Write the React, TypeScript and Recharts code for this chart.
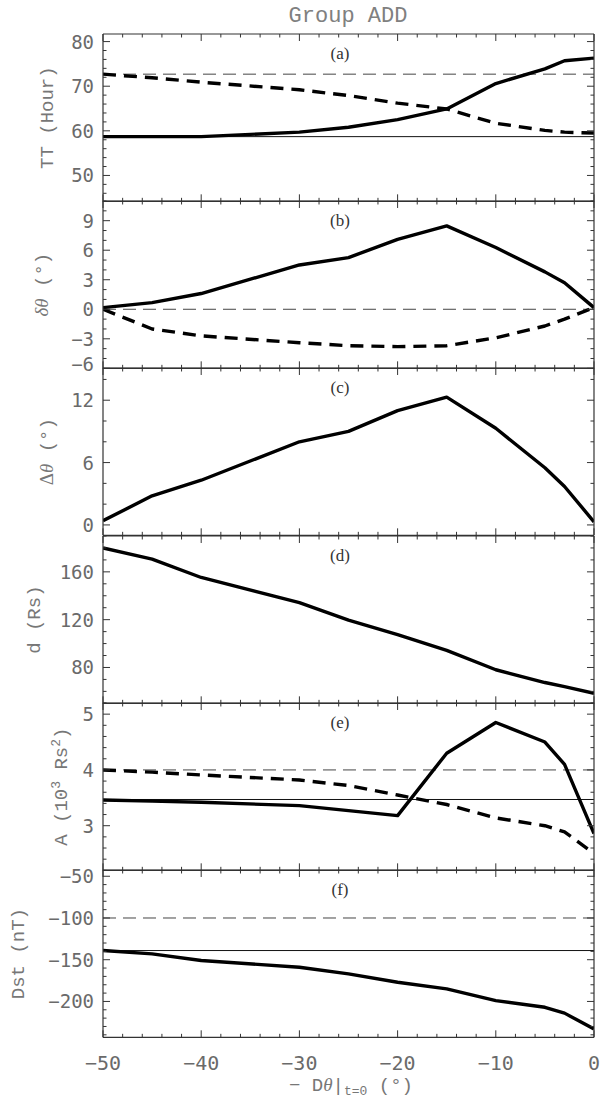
import React from 'react';
import { LineChart, Line, XAxis, YAxis, ReferenceLine } from 'recharts';

// ---------- data ----------
const X_VALUES = [-50, -45, -40, -30, -25, -20, -15, -10, -5, -3, 0];
const X_MAJOR = [-50, -40, -30, -20, -10, 0];
const X_MINOR_STEP = 2;

// (a) TT (Hour)
const TT_SOLID = [58.7, 58.7, 58.7, 59.7, 60.8, 62.5, 64.9, 70.6, 73.9, 75.7, 76.3];
const TT_DASHED = [72.7, 71.9, 70.9, 69.2, 67.9, 66.2, 64.9, 61.7, 60.1, 59.7, 59.5];
const TT_REF_SOLID = 58.7;
const TT_REF_DASHED = 72.7;
const TT_TICKS = [50, 60, 70, 80];

// (b) delta theta
const DTHETA_SOLID = [0.17, 0.68, 1.6, 4.5, 5.25, 7.1, 8.47, 6.27, 3.8, 2.7, 0.17];
const DTHETA_DASHED = [0, -2.0, -2.7, -3.4, -3.7, -3.8, -3.7, -2.9, -1.7, -1.0, 0.17];
const DTHETA_REF_DASHED = 0;
const DTHETA_TICKS = [-6, -3, 0, 3, 6, 9];

// (c) Delta theta
const BIGDTHETA = [0.4, 2.8, 4.3, 8.0, 9.0, 11.0, 12.3, 9.3, 5.5, 3.7, 0.3];
const BIGDTHETA_TICKS = [0, 6, 12];

// (d) d (Rs)
const DIST = [180, 170.7, 155.3, 134.2, 119.6, 107.5, 94.3, 78.1, 67.4, 64, 58.4];
const DIST_TICKS = [80, 120, 160];

// (e) A (10^3 Rs^2)
const AREA_SOLID = [3.46, 3.44, 3.42, 3.36, 3.27, 3.18, 4.3, 4.85, 4.5, 4.1, 2.86];
const AREA_DASHED = [4.0, 3.96, 3.91, 3.82, 3.72, 3.55, 3.38, 3.14, 3.0, 2.89, 2.5];
const AREA_REF_SOLID = 3.47;
const AREA_REF_DASHED = 4.0;
const AREA_TICKS = [3, 4, 5];

// (f) Dst (nT)
const DST_SOLID = [-139, -143, -151, -159, -167, -177, -185, -199, -207, -214, -233];
const DST_REF_SOLID = -139;
const DST_REF_DASHED = -100;
const DST_TICKS = [-200, -150, -100, -50];

// ---------- layout / style ----------
const PLOT_LEFT = 103;
const PLOT_RIGHT = 594;
const PANEL_TOP = 33.7;
const PANEL_H = 167.33;
const AXIS_COLOR = '#333';
const TICK_COLOR = '#6a6a6a';
const LABEL_COLOR = '#777';
const TICK_FONT = '"DejaVu Sans Mono", monospace';
const LABEL_FONT = '"Liberation Mono", monospace';
const SERIF = '"Liberation Serif", serif';
const THICK = 3.4;
const THICK_DASH = '13 8';
const THIN_DASH = '13 7';

function stepList(start: number, end: number, step: number): number[] {
  const out: number[] = [];
  const n = Math.round((end - start) / step);
  for (let i = 0; i <= n; i++) out.push(Math.round((start + i * step) * 1000) / 1000);
  return out;
}

function fmt(v: number): string {
  const r = Math.round(v * 100) / 100;
  return r < 0 ? '\u2212' + Math.abs(r) : String(r);
}

const isIn = (arr: number[], v: number) => arr.some((m) => Math.abs(m - v) < 1e-6);

const X_ALL_TICKS = stepList(-50, 0, X_MINOR_STEP);

function makeXTick(side: 'top' | 'bottom', showLabels: boolean) {
  return (props: any) => {
    const { x, y, payload } = props;
    const v = payload.value as number;
    const major = isIn(X_MAJOR, v);
    const len = major ? 7 : 3.5;
    const dir = side === 'bottom' ? -1 : 1;
    return (
      <g>
        <line x1={x} y1={y} x2={x} y2={y + dir * len} stroke={AXIS_COLOR} strokeWidth={1} />
        {showLabels && major ? (
          <text x={x} y={y + 33} textAnchor="middle" fontFamily={TICK_FONT} fontSize={20} fill={TICK_COLOR}>
            {fmt(v)}
          </text>
        ) : null}
      </g>
    );
  };
}

function makeYTick(side: 'left' | 'right', majors: number[], liftBottom: number | null) {
  return (props: any) => {
    const { x, y, payload } = props;
    const v = payload.value as number;
    const major = isIn(majors, v);
    const len = major ? 7 : 3.5;
    const dir = side === 'left' ? 1 : -1;
    const shift = liftBottom !== null && Math.abs(v - liftBottom) < 1e-6 ? -4 : 0;
    return (
      <g>
        <line x1={x} y1={y} x2={x + dir * len} y2={y} stroke={AXIS_COLOR} strokeWidth={1} />
        {side === 'left' && major ? (
          <text x={x - 9} y={y + 7 + shift} textAnchor="end" fontFamily={TICK_FONT} fontSize={19} fill={TICK_COLOR}>
            {fmt(v)}
          </text>
        ) : null}
      </g>
    );
  };
}

type Series = { key: string; values: number[]; dashed: boolean };
type Ref = { y: number; dashed: boolean };

type PanelProps = {
  index: number;
  letter: string;
  ylabel: React.ReactNode;
  ylabelX: number;
  domain: [number, number];
  majors: number[];
  minorStep: number;
  minorStart: number;
  series: Series[];
  refs: Ref[];
  last?: boolean;
};

function Panel(p: PanelProps) {
  const padTop = p.index === 0 ? 34 : 12;
  const padBottom = p.last ? 70 : 12;
  const data = X_VALUES.map((x, i) => {
    const row: Record<string, number> = { x };
    p.series.forEach((s) => {
      row[s.key] = s.values[i];
    });
    return row;
  });
  const minorEnd = p.domain[1];
  const yTicks = stepList(
    p.minorStart,
    p.minorStart + Math.floor((minorEnd - p.minorStart) / p.minorStep + 1e-6) * p.minorStep,
    p.minorStep
  );
  const liftBottom = Math.abs(p.majors[0] - p.domain[0]) < 1e-6 ? p.majors[0] : null;
  const topLabel = () => (
    <g>
      {p.index === 0 ? (
        <text x={348} y={padTop - 12} textAnchor="middle" fontFamily={LABEL_FONT} fontSize={22} fill="#808080">
          Group ADD
        </text>
      ) : null}
      <text x={340} y={padTop + 25} textAnchor="middle" fontFamily={SERIF} fontSize={17} fill="#333">
        {p.letter}
      </text>
    </g>
  );
  const leftLabel = () => (
    <g transform={`translate(${p.ylabelX},${padTop + PANEL_H / 2}) rotate(-90)`}>
      <text x={0} y={0} dy="0.35em" textAnchor="middle" fontFamily={LABEL_FONT} fontSize={19} fill={LABEL_COLOR}>
        {p.ylabel}
      </text>
    </g>
  );
  const bottomLabel = () =>
    p.last ? (
      <text x={351} y={padTop + PANEL_H + 54} textAnchor="middle" fontFamily={LABEL_FONT} fontSize={19} fill={LABEL_COLOR}>
        <tspan>{'\u2212 D'}</tspan>
        <tspan fontFamily={SERIF} fontStyle="italic">θ</tspan>
        <tspan>|</tspan>
        <tspan fontSize={13} dy={4}>t=0</tspan>
        <tspan dy={-4}>{' (°)'}</tspan>
      </text>
    ) : (
      <g />
    );

  return (
    <div style={{ position: 'absolute', left: 0, top: PANEL_TOP + p.index * PANEL_H - padTop }}>
      <LineChart
        width={600}
        height={PANEL_H + padTop + padBottom}
        data={data}
        margin={{ top: padTop - 1, right: 600 - PLOT_RIGHT - 1, bottom: padBottom - 1, left: 0 }}
      >
        <XAxis
          xAxisId="b"
          dataKey="x"
          type="number"
          domain={[-50, 0]}
          allowDataOverflow
          ticks={X_ALL_TICKS}
          interval={0}
          orientation="bottom"
          height={1}
          tickSize={0}
          tickMargin={0}
          tickLine={false}
          axisLine={{ stroke: AXIS_COLOR, strokeWidth: 1.2 }}
          tick={makeXTick('bottom', !!p.last)}
          label={{ content: bottomLabel }}
        />
        <XAxis
          xAxisId="t"
          dataKey="x"
          type="number"
          domain={[-50, 0]}
          allowDataOverflow
          ticks={X_ALL_TICKS}
          interval={0}
          orientation="top"
          height={1}
          tickSize={0}
          tickMargin={0}
          tickLine={false}
          axisLine={{ stroke: AXIS_COLOR, strokeWidth: 1.2 }}
          tick={makeXTick('top', false)}
          label={{ content: topLabel }}
        />
        <YAxis
          yAxisId="l"
          type="number"
          domain={p.domain}
          allowDataOverflow
          ticks={yTicks}
          interval={0}
          orientation="left"
          width={PLOT_LEFT}
          tickSize={0}
          tickMargin={0}
          tickLine={false}
          axisLine={{ stroke: AXIS_COLOR, strokeWidth: 1.2 }}
          tick={makeYTick('left', p.majors, liftBottom)}
          label={{ content: leftLabel }}
        />
        <YAxis
          yAxisId="r"
          type="number"
          domain={p.domain}
          allowDataOverflow
          ticks={yTicks}
          interval={0}
          orientation="right"
          width={1}
          tickSize={0}
          tickMargin={0}
          tickLine={false}
          axisLine={{ stroke: AXIS_COLOR, strokeWidth: 1.2 }}
          tick={makeYTick('right', p.majors, null)}
        />
        {p.refs.map((r, i) => (
          <ReferenceLine
            key={'ref' + i}
            xAxisId="b"
            yAxisId="l"
            y={r.y}
            stroke={r.dashed ? '#444' : '#111'}
            strokeWidth={1}
            strokeDasharray={r.dashed ? THIN_DASH : undefined}
          />
        ))}
        {p.series.map((s) => (
          <Line
            key={s.key}
            xAxisId="b"
            yAxisId="l"
            type="linear"
            dataKey={s.key}
            stroke="#000"
            strokeWidth={THICK}
            strokeDasharray={s.dashed ? THICK_DASH : undefined}
            strokeLinejoin="round"
            dot={false}
            activeDot={false}
            isAnimationActive={false}
          />
        ))}
      </LineChart>
    </div>
  );
}

const italic = (s: string) => (
  <tspan fontFamily={SERIF} fontStyle="italic">
    {s}
  </tspan>
);

export default function App() {
  return (
    <div style={{ position: 'absolute', left: 0, top: 0, width: 600, height: 1105, background: '#fff' }}>
      <Panel
        index={0}
        letter="(a)"
        ylabel="TT (Hour)"
        ylabelX={46}
        domain={[44.2, 81.7]}
        majors={TT_TICKS}
        minorStep={2}
        minorStart={46}
        series={[
          { key: 'solid', values: TT_SOLID, dashed: false },
          { key: 'dashed', values: TT_DASHED, dashed: true },
        ]}
        refs={[
          { y: TT_REF_SOLID, dashed: false },
          { y: TT_REF_DASHED, dashed: true },
        ]}
      />
      <Panel
        index={1}
        letter="(b)"
        ylabel={
          <>
            {italic('δθ')}
            <tspan>{' (°)'}</tspan>
          </>
        }
        ylabelX={41}
        domain={[-6, 11]}
        majors={DTHETA_TICKS}
        minorStep={1}
        minorStart={-6}
        series={[
          { key: 'solid', values: DTHETA_SOLID, dashed: false },
          { key: 'dashed', values: DTHETA_DASHED, dashed: true },
        ]}
        refs={[{ y: DTHETA_REF_DASHED, dashed: true }]}
      />
      <Panel
        index={2}
        letter="(c)"
        ylabel={
          <>
            <tspan fontFamily={SERIF}>Δ</tspan>
            {italic('θ')}
            <tspan>{' (°)'}</tspan>
          </>
        }
        ylabelX={46}
        domain={[-1, 15.1]}
        majors={BIGDTHETA_TICKS}
        minorStep={2}
        minorStart={0}
        series={[{ key: 'solid', values: BIGDTHETA, dashed: false }]}
        refs={[]}
      />
      <Panel
        index={3}
        letter="(d)"
        ylabel="d (Rs)"
        ylabelX={33}
        domain={[50, 190]}
        majors={DIST_TICKS}
        minorStep={10}
        minorStart={50}
        series={[{ key: 'solid', values: DIST, dashed: false }]}
        refs={[]}
      />
      <Panel
        index={4}
        letter="(e)"
        ylabel={
          <>
            <tspan>A (10</tspan>
            <tspan fontSize={13} dy={-7}>3</tspan>
            <tspan dy={7}>{' Rs'}</tspan>
            <tspan fontSize={13} dy={-7}>2</tspan>
            <tspan dy={7}>)</tspan>
          </>
        }
        ylabelX={60}
        domain={[2.2, 5.2]}
        majors={AREA_TICKS}
        minorStep={0.2}
        minorStart={2.2}
        series={[
          { key: 'solid', values: AREA_SOLID, dashed: false },
          { key: 'dashed', values: AREA_DASHED, dashed: true },
        ]}
        refs={[
          { y: AREA_REF_SOLID, dashed: false },
          { y: AREA_REF_DASHED, dashed: true },
        ]}
      />
      <Panel
        index={5}
        letter="(f)"
        ylabel="Dst (nT)"
        ylabelX={17}
        domain={[-243, -42.5]}
        majors={DST_TICKS}
        minorStep={10}
        minorStart={-240}
        series={[{ key: 'solid', values: DST_SOLID, dashed: false }]}
        refs={[
          { y: DST_REF_SOLID, dashed: false },
          { y: DST_REF_DASHED, dashed: true },
        ]}
        last
      />
    </div>
  );
}
